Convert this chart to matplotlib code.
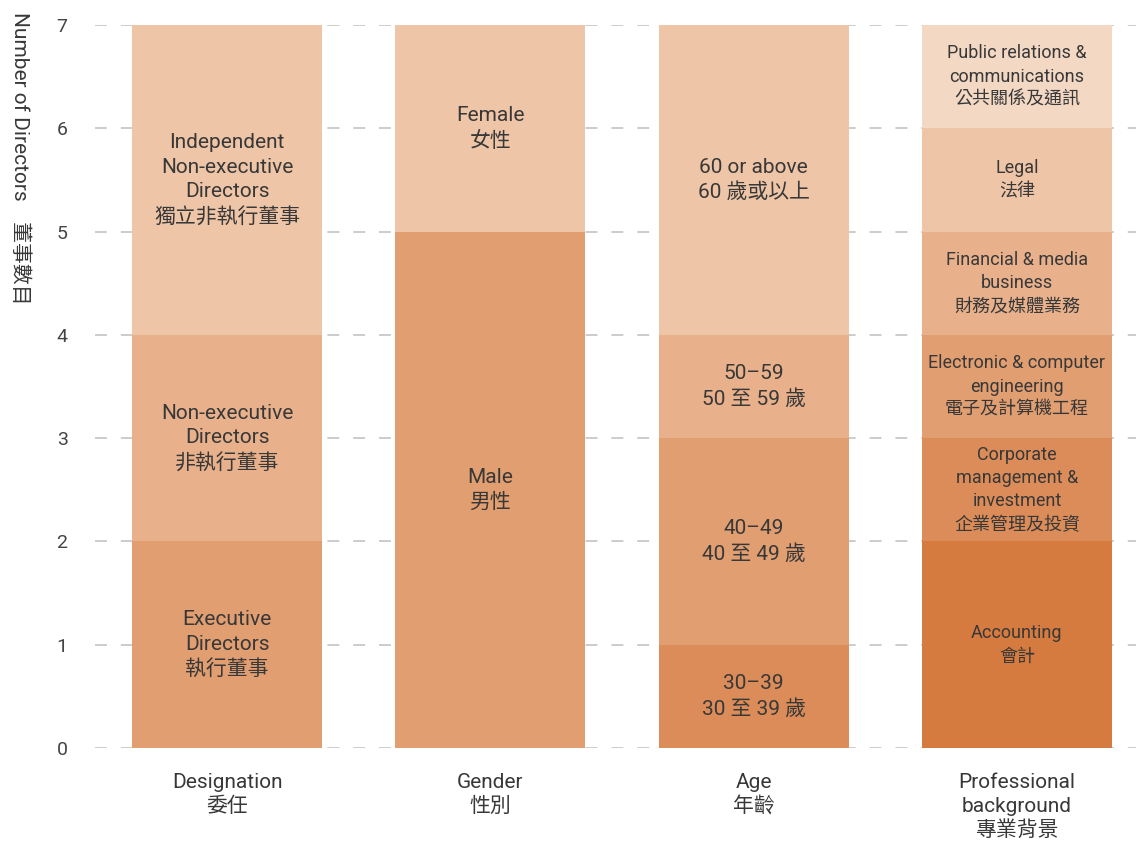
import matplotlib
matplotlib.use("Agg")
import matplotlib.pyplot as plt
import numpy as np

plt.rcParams['font.family'] = ['Roboto', 'Noto Sans CJK TC', 'DejaVu Sans']

groups = ["Designation\n委任", "Gender\n性別", "Age\n年齡", "Professional\nbackground\n專業背景"]

desig_labels = ["Executive\nDirectors\n執行董事", "Non-executive\nDirectors\n非執行董事",
                "Independent\nNon-executive\nDirectors\n獨立非執行董事"]
desig_values = [2, 2, 3]

gender_labels = ["Male\n男性", "Female\n女性"]
gender_values = [5, 2]

age_labels = ["30–39\n30 至 39 歲", "40–49\n40 至 49 歲", "50–59\n50 至 59 歲", "60 or above\n60 歲或以上"]
age_values = [1, 2, 1, 3]

prof_labels = ["Accounting\n會計", "Corporate\nmanagement &\ninvestment\n企業管理及投資",
               "Electronic & computer\nengineering\n電子及計算機工程",
               "Financial & media\nbusiness\n財務及媒體業務", "Legal\n法律",
               "Public relations &\ncommunications\n公共關係及通訊"]
prof_values = [2, 1, 1, 1, 1, 1]

yticks = [0, 1, 2, 3, 4, 5, 6, 7]

C_PR = "#F3D8C4"
C_L1 = "#EFC5A7"
C_L2 = "#E8B18B"
C_L3 = "#E19E71"
C_L4 = "#DB8C58"
C_L5 = "#D57B3F"

desig_colors = [C_L3, C_L2, C_L1]
gender_colors = [C_L3, C_L1]
age_colors = [C_L4, C_L3, C_L2, C_L1]
prof_colors = [C_L5, C_L4, C_L3, C_L2, C_L1, C_PR]

TXT = '#383838'

stacks = [
    (desig_labels, desig_values, desig_colors, 15, 1.36),
    (gender_labels, gender_values, gender_colors, 15, 1.36),
    (age_labels, age_values, age_colors, 15, 1.36),
    (prof_labels, prof_values, prof_colors, 13, 1.38),
]

fig = plt.figure(figsize=(11.36, 8.41), dpi=100)
ax = fig.add_axes([95.4/1136, (841-748)/841, 1 - 95.4/1136, (748-25)/841])

width = 190/263.3
for i, (labels, vals, cols, fs, ls) in enumerate(stacks):
    bottom = 0
    for lab, v, c in zip(labels, vals, cols):
        ax.bar(i, v, width=width, bottom=bottom, color=c, edgecolor='none', zorder=2)
        ax.text(i, bottom + v / 2, lab, ha='center', va='center', fontsize=fs,
                color=TXT, linespacing=ls, zorder=3)
        bottom += v

ax.set_xlim(-0.5, -0.5 + (1136 - 95.4) / 263.3)
ax.set_ylim(0, 7)
ax.set_yticks(yticks)
ax.set_yticklabels([str(t) for t in yticks], fontsize=14, color='#444444')
ax.set_xticks(range(4))
ax.set_xticklabels(groups, fontsize=15, color=TXT, linespacing=1.3)
ax.tick_params(axis='both', length=0)
ax.tick_params(axis='x', pad=18)
ax.tick_params(axis='y', pad=20)
for s in ax.spines.values():
    s.set_visible(False)
ax.set_axisbelow(True)
ax.yaxis.grid(True, color='#c8c8c8', linewidth=1.3, dashes=(6.6, 7.7))
ax.xaxis.grid(False)

fig.text(20/1136, 1 - 12/841, "Number of Directors    董事數目", rotation=270, ha='center', va='top',
         fontsize=15, color=TXT)

fig.savefig("out.png", dpi=100)
